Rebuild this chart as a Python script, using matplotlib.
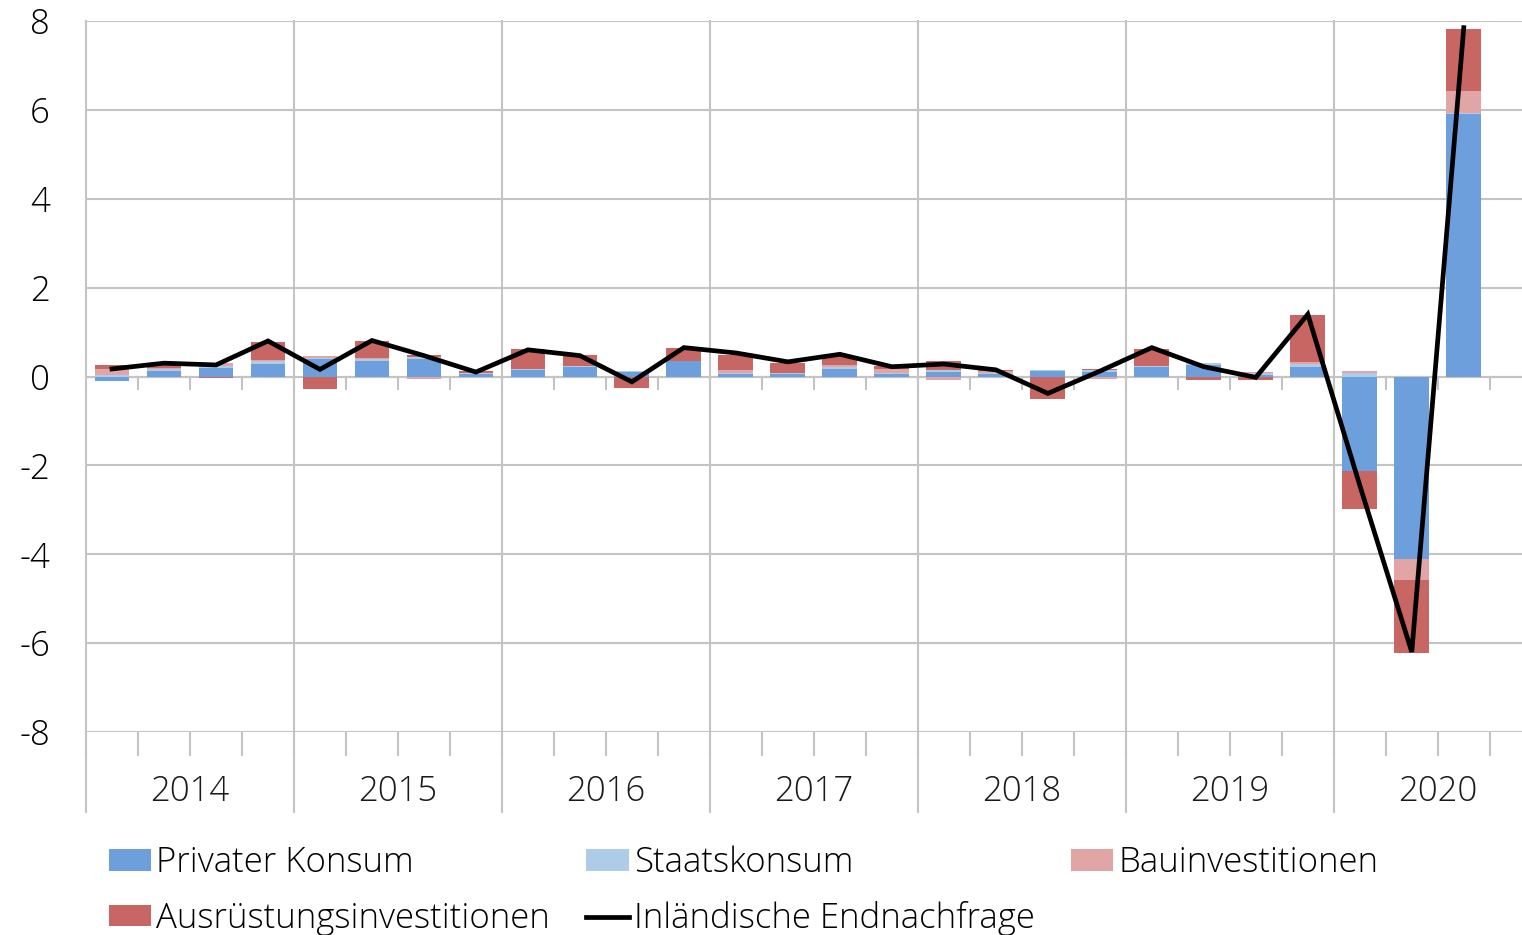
import matplotlib
matplotlib.use("Agg")
import matplotlib.pyplot as plt
import numpy as np

plt.rcParams['font.family'] = ['Open Sans', 'DejaVu Sans']
plt.rcParams['font.weight'] = 300
plt.rcParams['axes.unicode_minus'] = False

jahre = ["2014", "2015", "2016", "2017", "2018", "2019", "2020"]
quartale_pro_jahr = [4, 4, 4, 4, 4, 4, 3]

privater_konsum = [-0.10, 0.12, 0.20, 0.28, 0.39, 0.36, 0.40, 0.05,
                   0.15, 0.22, 0.11, 0.34, 0.05, 0.05, 0.17, 0.06,
                   0.11, 0.06, 0.13, 0.11, 0.22, 0.26, 0.04, 0.22,
                   -2.12, -4.10, 5.91]
staatskonsum = [0.03, 0.05, 0.04, 0.07, 0.03, 0.03, 0.03, 0.02,
                0.02, 0.02, 0.02, 0.02, 0.03, 0.04, 0.05, 0.02,
                0.03, 0.03, 0.02, 0.04, 0.02, 0.05, 0.04, 0.07,
                0.08, 0.00, 0.03]
bauinvestitionen = [0.13, 0.03, 0.06, 0.02, 0.05, 0.02, -0.06, 0.00,
                    0.00, 0.00, 0.00, 0.00, 0.07, 0.00, 0.04, 0.10,
                    -0.08, 0.03, 0.00, -0.06, 0.00, 0.00, 0.02, 0.04,
                    0.04, -0.47, 0.49]
ausruestung = [0.09, 0.07, -0.04, 0.41, -0.28, 0.40, 0.05, 0.06,
               0.46, 0.24, -0.25, 0.28, 0.34, 0.22, 0.21, 0.06,
               0.22, 0.02, -0.50, 0.02, 0.39, -0.08, -0.08, 1.05,
               -0.86, -1.65, 1.40]
endnachfrage = [0.17, 0.30, 0.26, 0.80, 0.16, 0.81, 0.47, 0.10,
                0.60, 0.47, -0.12, 0.65, 0.53, 0.33, 0.50, 0.22,
                0.28, 0.15, -0.38, 0.12, 0.65, 0.22, -0.02, 1.40,
                -2.45, -6.20, 7.85]

reihen = [
    ("Privater Konsum", privater_konsum, "#6C9FDB"),
    ("Staatskonsum", staatskonsum, "#AECBE8"),
    ("Bauinvestitionen", bauinvestitionen, "#E0A5A4"),
    ("Ausrüstungsinvestitionen", ausruestung, "#C86663"),
]

grau = "#C4C4C4"
fs = 25

fig = plt.figure(figsize=(15.22, 9.35), dpi=100)
ax = fig.add_axes([86 / 1522, 1 - 732 / 935, 1 - 86 / 1522, 711 / 935])

n = len(endnachfrage)
x = np.arange(n)
pos_boden = np.zeros(n)
neg_boden = np.zeros(n)
handles = {}
for name, werte, farbe in reihen:
    werte = np.array(werte)
    boden = np.where(werte >= 0, pos_boden, neg_boden)
    b = ax.bar(x, werte, 0.67, bottom=boden, color=farbe, zorder=3, label=name)
    handles[name] = b
    pos_boden += np.where(werte >= 0, werte, 0)
    neg_boden += np.where(werte < 0, werte, 0)

linie, = ax.plot(x, endnachfrage, color="black", lw=3.4, zorder=4,
                 solid_joinstyle="miter", label="Inländische Endnachfrage")

ax.set_ylim(-8, 8)
ax.set_xlim(-0.5, 27.12)
ax.set_yticks(range(-8, 9, 2))
ax.yaxis.grid(True, color=grau, lw=1.5, zorder=0)
ax.set_axisbelow(True)
ax.tick_params(axis="y", length=0, pad=26, labelsize=fs)
ax.set_xticks([])
for s in ax.spines.values():
    s.set_visible(False)

trans = ax.get_xaxis_transform()
grenzen = np.cumsum([0] + quartale_pro_jahr) - 0.5
# Jahresgrenzen, bis unter die Achse verlängert
for g in grenzen[:-1]:
    ax.plot([g, g], [1, -0.1125], transform=trans, color=grau, lw=1.5,
            clip_on=False, zorder=1)
# Quartalsstriche unten und an der Nulllinie
for q in np.arange(n + 1) - 0.5:
    ax.plot([q, q], [0, -0.0323], transform=trans, color=grau, lw=1.5,
            clip_on=False, zorder=1)
    ax.plot([q, q], [0, -0.29], color=grau, lw=1.5, clip_on=False, zorder=2)
ax.axhline(0, color=grau, lw=1.5, zorder=2)

# Jahreszahlen mittig über vier Quartalsplätze (auch 2020)
for i, jahr in enumerate(jahre):
    mitte = grenzen[i] + 2
    ax.text(mitte, -0.0844, jahr, transform=trans, ha="center", va="center",
            fontsize=fs, color="#1a1a1a")

leg_handles = [handles["Privater Konsum"], handles["Ausrüstungsinvestitionen"],
               handles["Staatskonsum"], linie, handles["Bauinvestitionen"]]
leg_labels = ["Privater Konsum", "Ausrüstungsinvestitionen", "Staatskonsum",
              "Inländische Endnachfrage", "Bauinvestitionen"]
fig.legend(leg_handles, leg_labels, ncol=3, loc="upper left",
           bbox_to_anchor=(109 / 1522, 1 - 846 / 935), frameon=False,
           fontsize=fs, handlelength=1.22, handleheight=0.58,
           handletextpad=0.14, columnspacing=1.05, labelspacing=0.6,
           borderpad=0, borderaxespad=0)

fig.savefig("out.png", dpi=100)
